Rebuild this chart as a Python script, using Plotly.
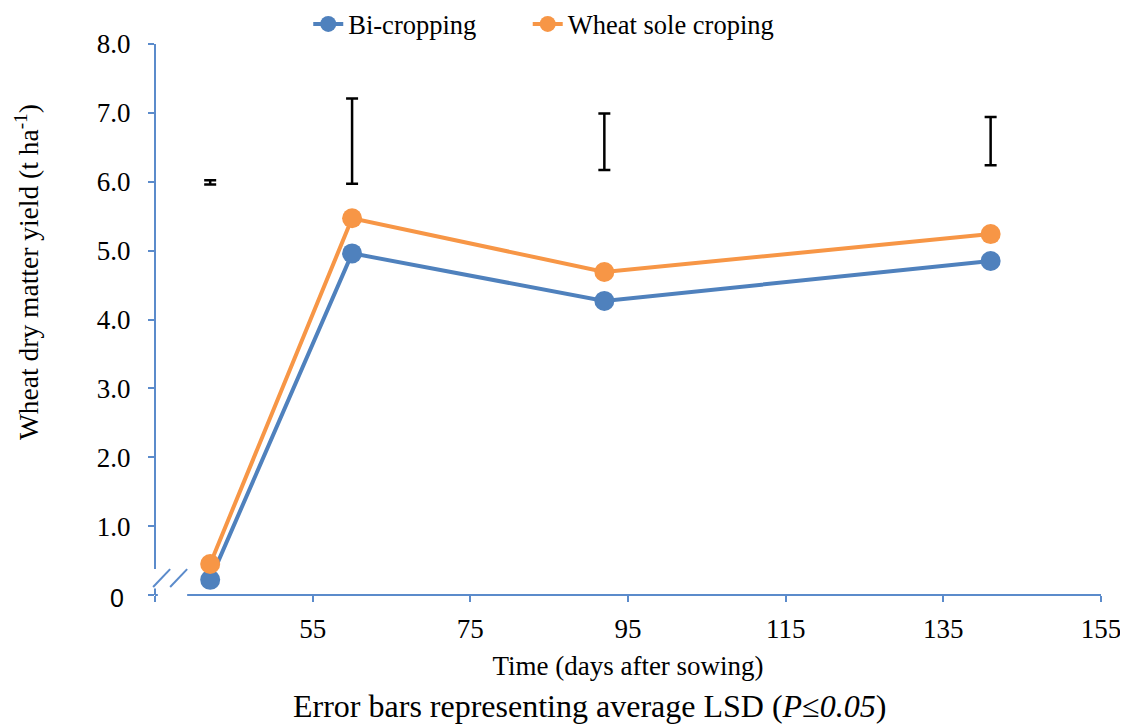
import plotly.graph_objects as go

days = [42, 60, 92, 141]
bi_cropping = [0.22, 4.96, 4.27, 4.85]
wheat_sole = [0.45, 5.47, 4.69, 5.24]
lsd_center = [5.99, 6.59, 6.58, 6.59]
lsd_half = [0.03, 0.62, 0.41, 0.35]

x_ticks = [35, 55, 75, 95, 115, 135, 155]
x_ticktext = ["", "55", "75", "95", "115", "135", "155"]
y_ticks = [0, 1, 2, 3, 4, 5, 6, 7, 8]
y_ticktext = ["", "1.0", "2.0", "3.0", "4.0", "5.0", "6.0", "7.0", "8.0"]

BLUE = "#4F81BD"
ORANGE = "#F79646"
AXIS = "#5B8BCB"
SERIF = "Liberation Serif"

fig = go.Figure()
fig.add_trace(go.Scatter(x=days, y=bi_cropping, mode="lines+markers", name="Bi-cropping",
                         line=dict(color=BLUE, width=4), marker=dict(color=BLUE, size=20),
                         legend="legend"))
fig.add_trace(go.Scatter(x=days, y=wheat_sole, mode="lines+markers", name="Wheat sole croping",
                         line=dict(color=ORANGE, width=4), marker=dict(color=ORANGE, size=20),
                         legend="legend2"))
fig.add_trace(go.Scatter(x=days, y=lsd_center, mode="markers", showlegend=False,
                         marker=dict(size=1, color="rgba(0,0,0,0)"),
                         error_y=dict(type="data", array=lsd_half, symmetric=True,
                                      color="black", thickness=2.5, width=6),
                         hoverinfo="skip"))

shapes = []
line_style = dict(color=AXIS, width=2)
# y axis (with break)
shapes.append(dict(type="line", xref="paper", yref="paper", x0=0, x1=0, y0=0.047, y1=1.0, line=line_style))
shapes.append(dict(type="line", xref="paper", yref="paper", x0=0, x1=0, y0=0, y1=0.012, line=line_style))
# x axis (with break)
shapes.append(dict(type="line", xref="paper", yref="paper", x0=0, x1=0.003, y0=0, y1=0, line=line_style))
shapes.append(dict(type="line", xref="paper", yref="paper", x0=0.034, x1=1.0, y0=0, y1=0, line=line_style))
# break slashes
shapes.append(dict(type="line", xref="paper", yref="paper", x0=-0.002, x1=0.016, y0=0.0145, y1=0.047, line=line_style))
shapes.append(dict(type="line", xref="paper", yref="paper", x0=0.016, x1=0.034, y0=0.0145, y1=0.047, line=line_style))

legend_font = dict(family=SERIF, size=26.5, color="black")

# page has an 8px body margin: plot area lands at x 155..1101, y 44..595 in the window
fig.update_layout(
    width=1128, height=724,
    margin=dict(l=147, r=35, t=36, b=137, autoexpand=False),
    paper_bgcolor="white", plot_bgcolor="white",
    font=dict(family=SERIF, size=27, color="black"),
    showlegend=True,
    legend=dict(orientation="h", x=0.162, y=1.036, xanchor="left", yanchor="middle",
                font=legend_font, bgcolor="rgba(0,0,0,0)"),
    legend2=dict(orientation="h", x=0.394, y=1.036, xanchor="left", yanchor="middle",
                 font=legend_font, bgcolor="rgba(0,0,0,0)"),
    xaxis=dict(range=[35, 155], tickvals=x_ticks, ticktext=x_ticktext, showgrid=False, zeroline=False,
               showline=False, ticks="outside", ticklen=6, tickwidth=2, tickcolor=AXIS,
               ticklabelstandoff=4, tickfont=dict(family=SERIF, size=27),
               title=dict(text="Time (days after sowing)", font=dict(family=SERIF, size=27), standoff=12)),
    yaxis=dict(range=[0, 8], tickvals=y_ticks, ticktext=y_ticktext, showgrid=False, zeroline=False,
               showline=False, ticks="outside", ticklen=6, tickwidth=2, tickcolor=AXIS,
               ticklabelstandoff=12, tickfont=dict(family=SERIF, size=27)),
    shapes=shapes,
    annotations=[
        dict(text="0", xref="paper", yref="paper", x=0, y=0, xshift=-38, yshift=-3,
             xanchor="center", yanchor="middle", showarrow=False,
             font=dict(family="Liberation Sans", size=25, color="black")),
        dict(text="Wheat dry matter yield (t ha<sup>-1</sup>)", xref="paper", yref="paper",
             x=0, y=0.586, xshift=-128, xanchor="center", yanchor="middle", textangle=-90,
             showarrow=False, font=dict(family=SERIF, size=27.5, color="black")),
        dict(text="Error bars representing average LSD (<i>P≤0.05</i>)", xref="paper", yref="paper",
             x=0.5, y=0, yshift=-111, xanchor="center", yanchor="middle", showarrow=False,
             xshift=-39,
             font=dict(family=SERIF, size=32, color="black")),
    ],
)

fig.write_html("out.html")
